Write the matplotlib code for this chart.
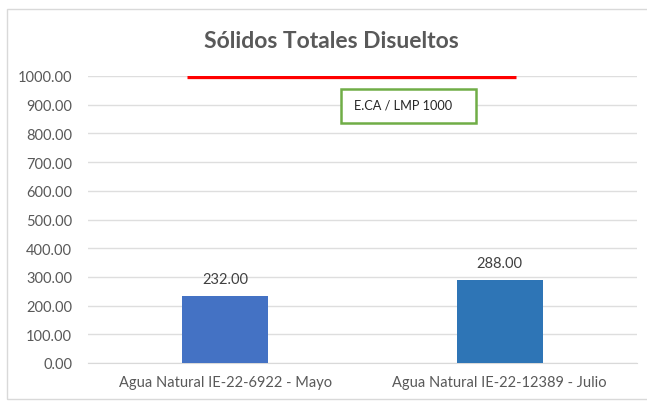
import matplotlib.pyplot as plt
import matplotlib.patches as patches

categories = ['Agua Natural IE-22-6922 - Mayo', 'Agua Natural IE-22-12389 - Julio']
values = [232.00, 288.00]
limit_value = 1000
limit_label = 'E.CA / LMP 1000'
yticks = [0, 100, 200, 300, 400, 500, 600, 700, 800, 900, 1000]

plt.rcParams['font.family'] = ['Lato', 'DejaVu Sans']
gray = '#595959'

fig = plt.figure(figsize=(6.47, 4.02), dpi=100)
W, H = 647, 402

# outer chart border
fig.patches.append(patches.Rectangle((7 / W, 2 / H), 1.0, (H - 12) / H,
                                     transform=fig.transFigure, fill=False,
                                     edgecolor='#d9d9d9', linewidth=1))

ax = fig.add_axes([88 / W, 38 / H, 549 / W, 287 / H])
ax.bar([0, 1], values, width=0.313, color=['#4472C4', '#2E75B6'], zorder=3)
for i, v in enumerate(values):
    ax.text(i, v + 36, f'{v:.2f}', ha='center', va='bottom', fontsize=10.5, color='#404040')

# limit line
ax.plot([-0.138, 1.06], [limit_value, limit_value], color='#FF0000', linewidth=3.8,
        solid_capstyle='butt', zorder=4)

ax.set_xlim(-0.5, 1.5)
ax.set_ylim(0, 1000)
ax.set_yticks(yticks)
ax.set_yticklabels([f'{t:.2f}' for t in yticks])
ax.set_xticks([0, 1])
ax.set_xticklabels(categories)
ax.tick_params(axis='both', length=0, labelsize=10.5, colors=gray)
ax.tick_params(axis='y', pad=11.5)
ax.tick_params(axis='x', pad=9)
ax.grid(axis='y', color='#dedede', linewidth=1, zorder=0)
for s in ['top', 'right', 'left']:
    ax.spines[s].set_visible(False)
ax.spines['bottom'].set_color('#d9d9d9')

# label box
fig.patches.append(patches.Rectangle((341 / W, (H - 124) / H), 135 / W, 34 / H,
                                     transform=fig.transFigure, facecolor='white',
                                     edgecolor='#70AD47', linewidth=1.8, zorder=5))
fig.text(403 / W, (H - 106) / H, limit_label, ha='center', va='center', fontsize=9.2,
         color='#262626', zorder=6)

fig.text(331 / W, (H - 42) / H, 'Sólidos Totales Disueltos', ha='center', va='center',
         fontsize=16.5, fontweight='bold', color=gray)

fig.savefig('out.png', dpi=100)
